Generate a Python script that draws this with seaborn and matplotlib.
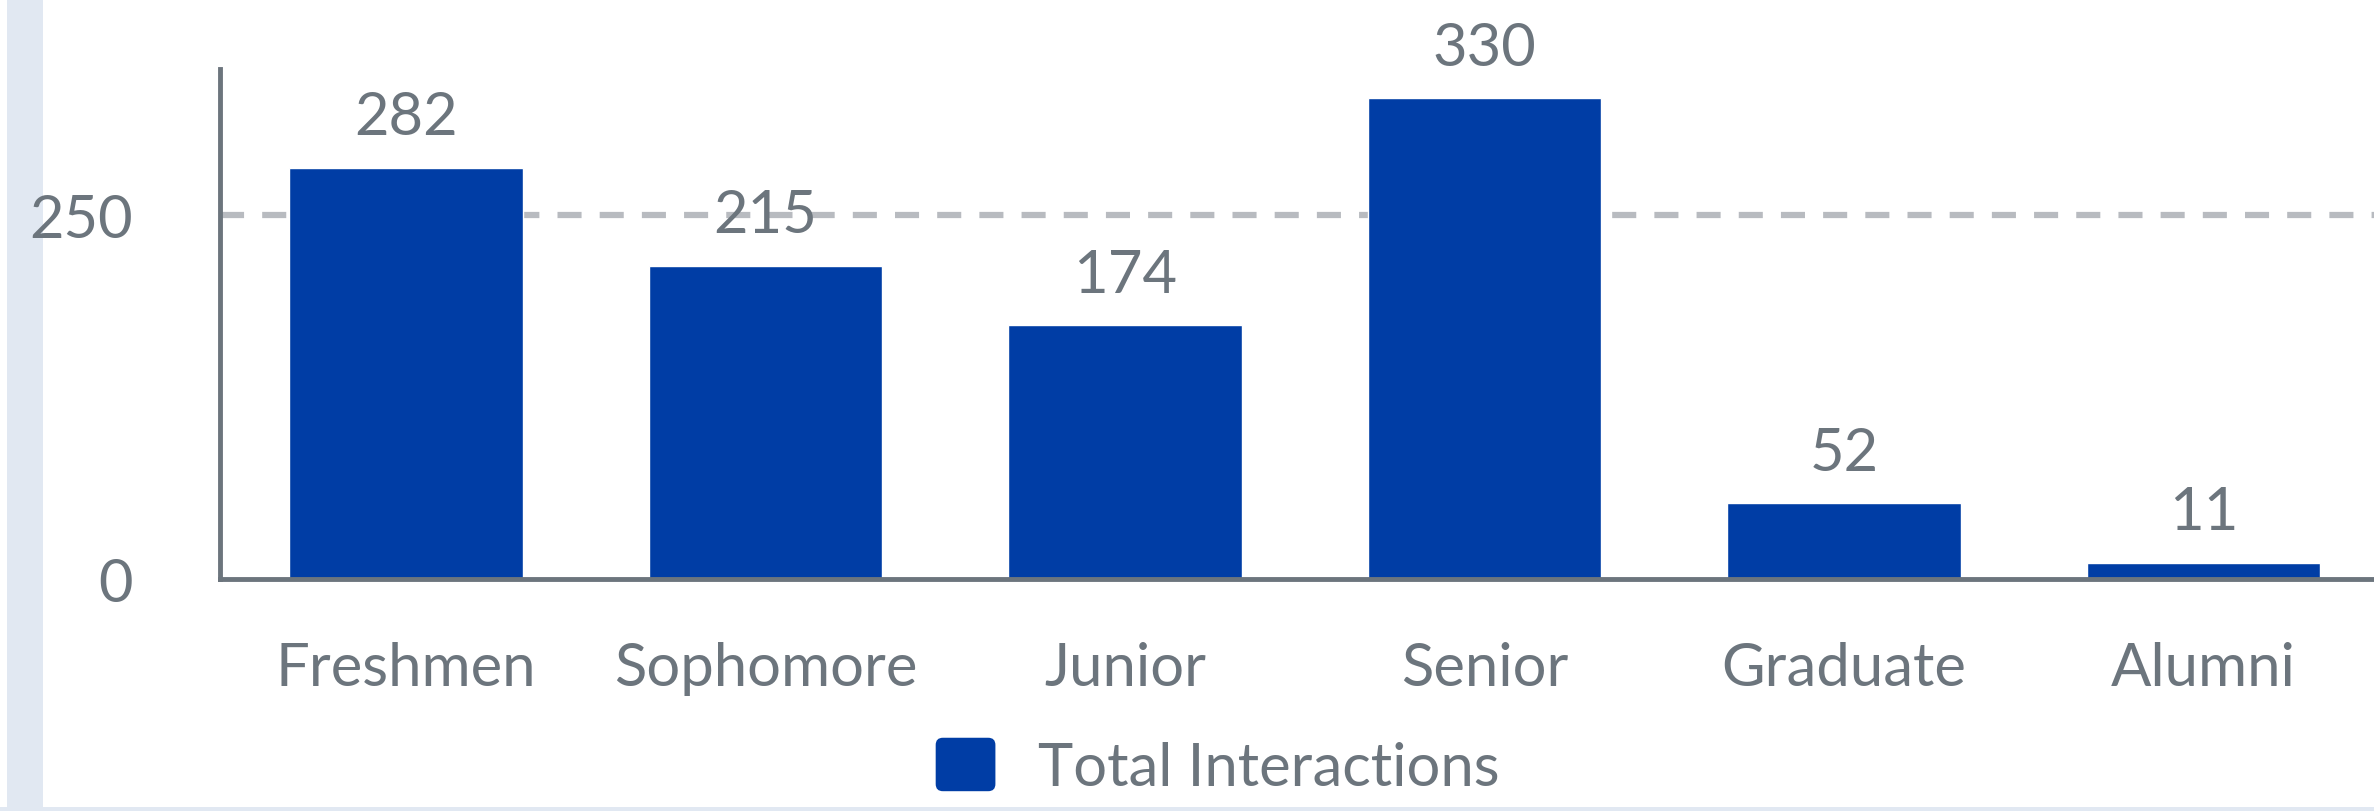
"""Bar chart: total interactions by student class year."""
import matplotlib
matplotlib.use("Agg")
import matplotlib.pyplot as plt
import seaborn as sns
import pandas as pd
from matplotlib.patches import Rectangle, FancyBboxPatch
from matplotlib.legend_handler import HandlerBase

# Data
categories = ['Freshmen', 'Sophomore', 'Junior', 'Senior', 'Graduate', 'Alumni']
interactions = [282, 215, 174, 330, 52, 11]
series_label = 'Total Interactions'
y_ticks = [0, 250]

BAR_COLOR = '#003da5'
TEXT_COLOR = '#6c757d'
GRID_COLOR = '#b8bbc0'
FRAME_COLOR = '#e1e8f2'
FONT_SIZE = 43


class RoundedSquareHandler(HandlerBase):
    """Legend key drawn as a rounded square."""

    def create_artists(self, legend, orig_handle, xdescent, ydescent,
                       width, height, fontsize, trans):
        p = FancyBboxPatch((-xdescent, -ydescent), width, height,
                           boxstyle=f'round,pad=0,rounding_size={0.12 * width}',
                           facecolor=BAR_COLOR, edgecolor='none', transform=trans)
        return [p]


sns.set_style('white')
plt.rcParams['font.family'] = ['Lato', 'DejaVu Sans']

df = pd.DataFrame({'category': categories, 'value': interactions})

fig = plt.figure(figsize=(23.74, 8.12), dpi=100)
ax = fig.add_axes([220 / 2374, (812 - 580) / 812, 1 - 220 / 2374, (580 - 70) / 812])
ax.set_zorder(1)
ax.patch.set_alpha(0)

# Light frame decorations (left stripe and bottom rule)
fig.patches.append(Rectangle((7 / 2374, 0), 36 / 2374, 1, transform=fig.transFigure,
                             facecolor=FRAME_COLOR, edgecolor='none', zorder=-1))
fig.patches.append(Rectangle((0, 0), 1, 4 / 812, transform=fig.transFigure,
                             facecolor=FRAME_COLOR, edgecolor='none', zorder=-1))

# Gridline at 250 behind bars
ax.axhline(250, color=GRID_COLOR, linewidth=4.5, linestyle=(0, (3.85, 2.9)), zorder=0)

sns.barplot(data=df, x='category', y='value', color=BAR_COLOR, width=0.65,
            saturation=1, label=series_label, ax=ax, zorder=2)

# Value labels
for i, v in enumerate(interactions):
    ax.annotate(f'{v}', (i, v), textcoords='offset points', xytext=(0, 17),
                ha='center', va='bottom', fontsize=FONT_SIZE, color=TEXT_COLOR)

ax.set_ylim(0, 350)
ax.set_xlim(-0.517, 5.474)
ax.set_yticks(y_ticks)
ax.set_xlabel('')
ax.set_ylabel('')
ax.tick_params(axis='both', length=0, labelsize=FONT_SIZE, labelcolor=TEXT_COLOR)
ax.tick_params(axis='y', pad=63)
ax.tick_params(axis='x', pad=45)

for side in ['top', 'right']:
    ax.spines[side].set_visible(False)
for side in ['left', 'bottom']:
    ax.spines[side].set_color(TEXT_COLOR)
    ax.spines[side].set_linewidth(3.5)

handles, labels = ax.get_legend_handles_labels()
if ax.get_legend() is not None:
    ax.get_legend().remove()
leg = fig.legend(handles, labels, loc='center', bbox_to_anchor=(0.513, 0.055),
                 frameon=False, fontsize=FONT_SIZE, handlelength=1.0,
                 handleheight=1.0, handletextpad=0.72,
                 handler_map={type(handles[0]): RoundedSquareHandler()})
for t in leg.get_texts():
    t.set_color(TEXT_COLOR)

fig.savefig('out.png', dpi=100)
plt.close(fig)
